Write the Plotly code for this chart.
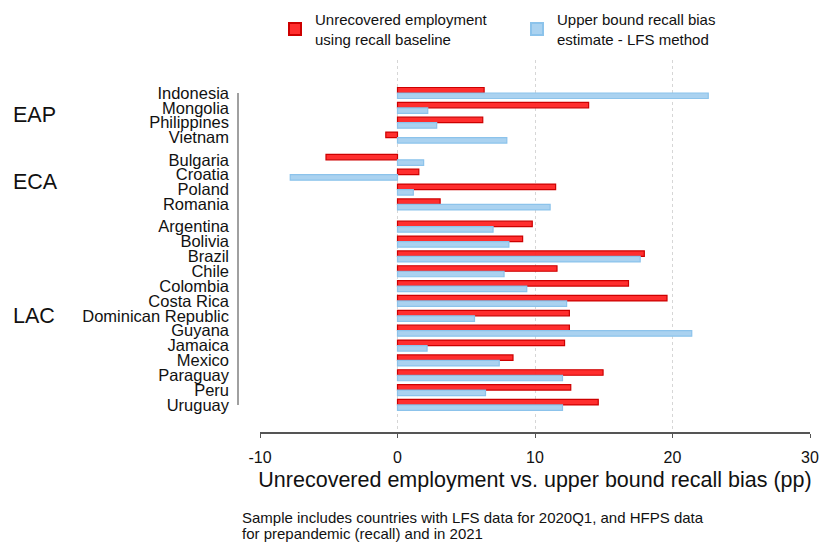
import plotly.graph_objects as go

groups = ["EAP", "ECA", "LAC"]
countries = [
    ["Indonesia", "Mongolia", "Philippines", "Vietnam"],
    ["Bulgaria", "Croatia", "Poland", "Romania"],
    ["Argentina", "Bolivia", "Brazil", "Chile", "Colombia", "Costa Rica",
     "Dominican Republic", "Guyana", "Jamaica", "Mexico", "Paraguay", "Peru", "Uruguay"],
]
unrecovered = [
    [6.3, 13.9, 6.2, -0.85],
    [-5.2, 1.55, 11.5, 3.1],
    [9.8, 9.1, 17.95, 11.6, 16.8, 19.6, 12.5, 12.5, 12.15, 8.4, 14.95, 12.6, 14.6],
]
recall_bias = [
    [22.6, 2.2, 2.85, 7.95],
    [1.9, -7.8, 1.15, 11.1],
    [6.95, 8.1, 17.65, 7.75, 9.4, 12.3, 5.6, 21.4, 2.15, 7.4, 12.0, 6.4, 12.0],
]
x_ticks = [-10, 0, 10, 20, 30]
note_lines = ["Sample includes countries with LFS data for 2020Q1, and HFPS data",
              "for prepandemic (recall) and in 2021"]

# layout positions (half-slot gap between groups)
names, pos, u_vals, b_vals, centers = [], [], [], [], []
k = 0
for g, clist in enumerate(countries):
    gp = []
    for j, c in enumerate(clist):
        p = k + 0.5 * g
        names.append(c); pos.append(p); gp.append(p)
        u_vals.append(unrecovered[g][j]); b_vals.append(recall_bias[g][j])
        k += 1
    centers.append((gp[0] + gp[-1]) / 2)

y_lo, y_hi = -2.22, pos[-1] + 1.82
font = "Liberation Sans, Arial, sans-serif"
PW, PH = 550, 372  # plot area size in px

fig = go.Figure()
fig.add_trace(go.Bar(
    y=pos, x=u_vals, orientation="h",
    name="Unrecovered employment<br>using recall baseline",
    marker=dict(color="rgba(255,35,35,0.95)", line=dict(color="rgb(205,0,0)", width=1.2)),
))
fig.add_trace(go.Bar(
    y=pos, x=b_vals, orientation="h",
    name="Upper bound recall bias<br>estimate - LFS method",
    marker=dict(color="rgb(170,210,240)", line=dict(color="rgb(140,195,235)", width=1.2)),
))

ann = []
for g, c in zip(groups, centers):
    ann.append(dict(text=g, x=(11 - 260) / PW, xref="paper", xanchor="left", y=c, yref="y",
                    showarrow=False, font=dict(size=21.5, color="#111", family=font)))
for i, line in enumerate(note_lines):
    ann.append(dict(text=line,
                    x=(240 - 260) / PW, xref="paper", xanchor="left",
                    y=(432 - (517 + 16 * i)) / PH, yref="paper", yanchor="middle", align="left",
                    showarrow=False, font=dict(size=15, color="#111", family=font)))

fig.update_layout(
    width=820, height=542,
    margin=dict(l=260, r=10, t=60, b=110, autoexpand=False),
    paper_bgcolor="white", plot_bgcolor="white",
    barmode="group", bargap=0.26, bargroupgap=0.0,
    font=dict(family=font, size=14, color="#111"),
    showlegend=True,
    legend=dict(orientation="h", x=275 / 820, xref="container", xanchor="left",
                y=1 - 3 / 542, yref="container", yanchor="top",
                entrywidth=197, entrywidthmode="pixels",
                font=dict(size=15, family=font, color="#111"), itemsizing="constant"),
    annotations=ann,
    shapes=[dict(type="line", xref="paper", yref="paper",
                 x0=-22 / PW, x1=-22 / PW,
                 y0=(y_hi - pos[0]) / (y_hi - y_lo), y1=(y_hi - pos[-1]) / (y_hi - y_lo),
                 line=dict(color="#a0a0a0", width=2))],
)
fig.update_xaxes(range=[-10, 30], tickvals=x_ticks, ticktext=[str(t) for t in x_ticks],
                 automargin=False,
                 showgrid=True, gridcolor="#d6d6d6", griddash="dot", gridwidth=1,
                 showline=True, linecolor="#555", linewidth=1.5,
                 ticks="outside", ticklen=4, tickcolor="#555", ticklabelstandoff=6,
                 zeroline=False, tickfont=dict(size=16),
                 title=dict(text="Unrecovered employment vs. upper bound recall bias (pp)",
                            font=dict(size=21.5), standoff=7))
fig.update_yaxes(range=[y_hi, y_lo], tickvals=pos, ticktext=names, automargin=False,
                 showgrid=False, zeroline=False, showline=False, ticks="",
                 ticklabelstandoff=30, tickfont=dict(size=16.5))

fig.write_html("out.html")
